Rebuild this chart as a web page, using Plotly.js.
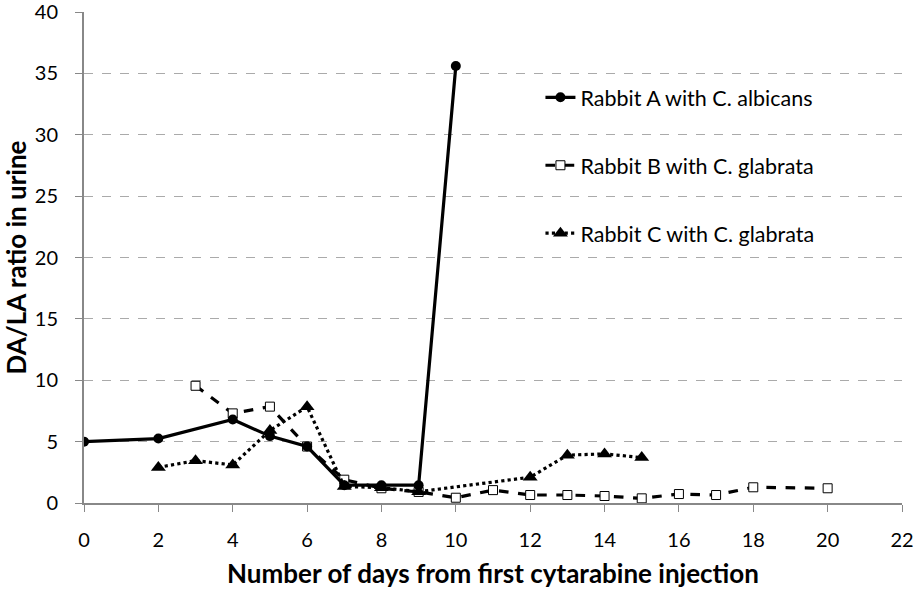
<!DOCTYPE html>
<html>
<head>
<meta charset="utf-8">
<script src="https://cdn.plot.ly/plotly-3.0.1.min.js"></script>
<style>html,body{margin:0;padding:0;background:#fff;}#chart{width:915px;height:592px;}</style>
</head>
<body>
<div id="chart"></div>
<script>
const daysA = [0, 2, 4, 5, 6, 7, 8, 9, 10];
const ratioA = [5.0, 5.25, 6.8, 5.45, 4.6, 1.45, 1.45, 1.45, 35.6];

const daysB = [3, 4, 5, 6, 7, 8, 9, 10, 11, 12, 13, 14, 15, 16, 17, 18, 20];
const ratioB = [9.55, 7.3, 7.85, 4.6, 1.9, 1.2, 0.9, 0.43, 1.05, 0.65, 0.65, 0.57, 0.38, 0.73, 0.65, 1.28, 1.2];

const daysC = [2, 3, 4, 5, 6, 7, 8, 9, 12, 13, 14, 15];
const ratioC = [2.9, 3.45, 3.1, 5.9, 7.85, 1.35, 1.25, 0.92, 2.1, 3.9, 4.0, 3.7];

const seriesNames = ["Rabbit A with C. albicans", "Rabbit B with C. glabrata", "Rabbit C with C. glabrata"];
const xTicks = [0, 2, 4, 6, 8, 10, 12, 14, 16, 18, 20, 22];
const yTicks = [0, 5, 10, 15, 20, 25, 30, 35, 40];
const xRange = [0, 22];
const yRange = [0, 40];

const FONT = "Lato, 'Open Sans', sans-serif";

const traces = [
  {x: daysA, y: ratioA, name: seriesNames[0], legendgroup: "a", legendrank: 1, mode: "lines+markers",
   xaxis: "x2", yaxis: "y2",
   line: {color: "#000", width: 3.2},
   marker: {symbol: "circle", size: 10, color: "#000"}},
  {x: daysB, y: ratioB, name: seriesNames[1], legendgroup: "b", legendrank: 2, mode: "lines+markers",
   line: {color: "#000", width: 3.2, dash: "dash"},
   marker: {symbol: "square", size: 9, color: "#fff", line: {color: "#000", width: 1}}},
  {x: daysC, y: ratioC, name: seriesNames[2], legendgroup: "c", legendrank: 3, mode: "lines+markers",
   line: {color: "#000", width: 3.2, dash: "dot"},
   marker: {symbol: "triangle-up", size: 13, color: "#000"}}
];

const layout = {
  width: 915, height: 592,
  margin: {l: 84, r: 13, t: 12, b: 89},
  paper_bgcolor: "#fff", plot_bgcolor: "#fff",
  font: {family: FONT, color: "#000", size: 20},
  showlegend: true,
  legend: {x: 0.558, y: 0.868, xanchor: "left", yanchor: "top", traceorder: "grouped",
           tracegroupgap: 37, font: {size: 21.5, family: FONT}, bgcolor: "rgba(0,0,0,0)", itemwidth: 30},
  xaxis: {range: xRange, tickvals: xTicks, showticklabels: false,
          showgrid: false, zeroline: false, showline: true, linecolor: "#888", linewidth: 1.5,
          ticks: "outside", ticklen: 7, tickcolor: "#888",
          title: {text: ""}},
  yaxis: {range: yRange, tickvals: yTicks, showticklabels: false,
          showgrid: true, gridcolor: "#aaa", griddash: "dash", gridwidth: 1,
          zeroline: false, showline: true, linecolor: "#888", linewidth: 1.5,
          ticks: "outside", ticklen: 7, tickcolor: "#888",
          title: {text: ""}},
  xaxis2: {overlaying: "x", anchor: "y", side: "bottom", range: xRange, tickvals: xTicks,
           ticktext: xTicks.map(String), showgrid: false, zeroline: false, showline: false,
           ticklabeloverflow: "allow",
           ticks: "outside", ticklen: 19, tickcolor: "rgba(0,0,0,0)", tickfont: {size: 20},
           title: {text: "<b>Number of days from first cytarabine injection</b>", font: {size: 26, family: FONT}, standoff: 14}},
  yaxis2: {overlaying: "y", anchor: "x", side: "left", range: yRange, tickvals: yTicks,
           ticktext: yTicks.map(String), showgrid: false, zeroline: false, showline: false,
           ticklabeloverflow: "allow",
           ticks: "outside", ticklen: 21, tickcolor: "rgba(0,0,0,0)", tickfont: {size: 20},
           title: {text: "<b>DA/LA ratio in urine</b>", font: {size: 26, family: FONT}, standoff: 17}}
};

Plotly.newPlot("chart", traces, layout, {displayModeBar: false});
</script>
</body>
</html>
